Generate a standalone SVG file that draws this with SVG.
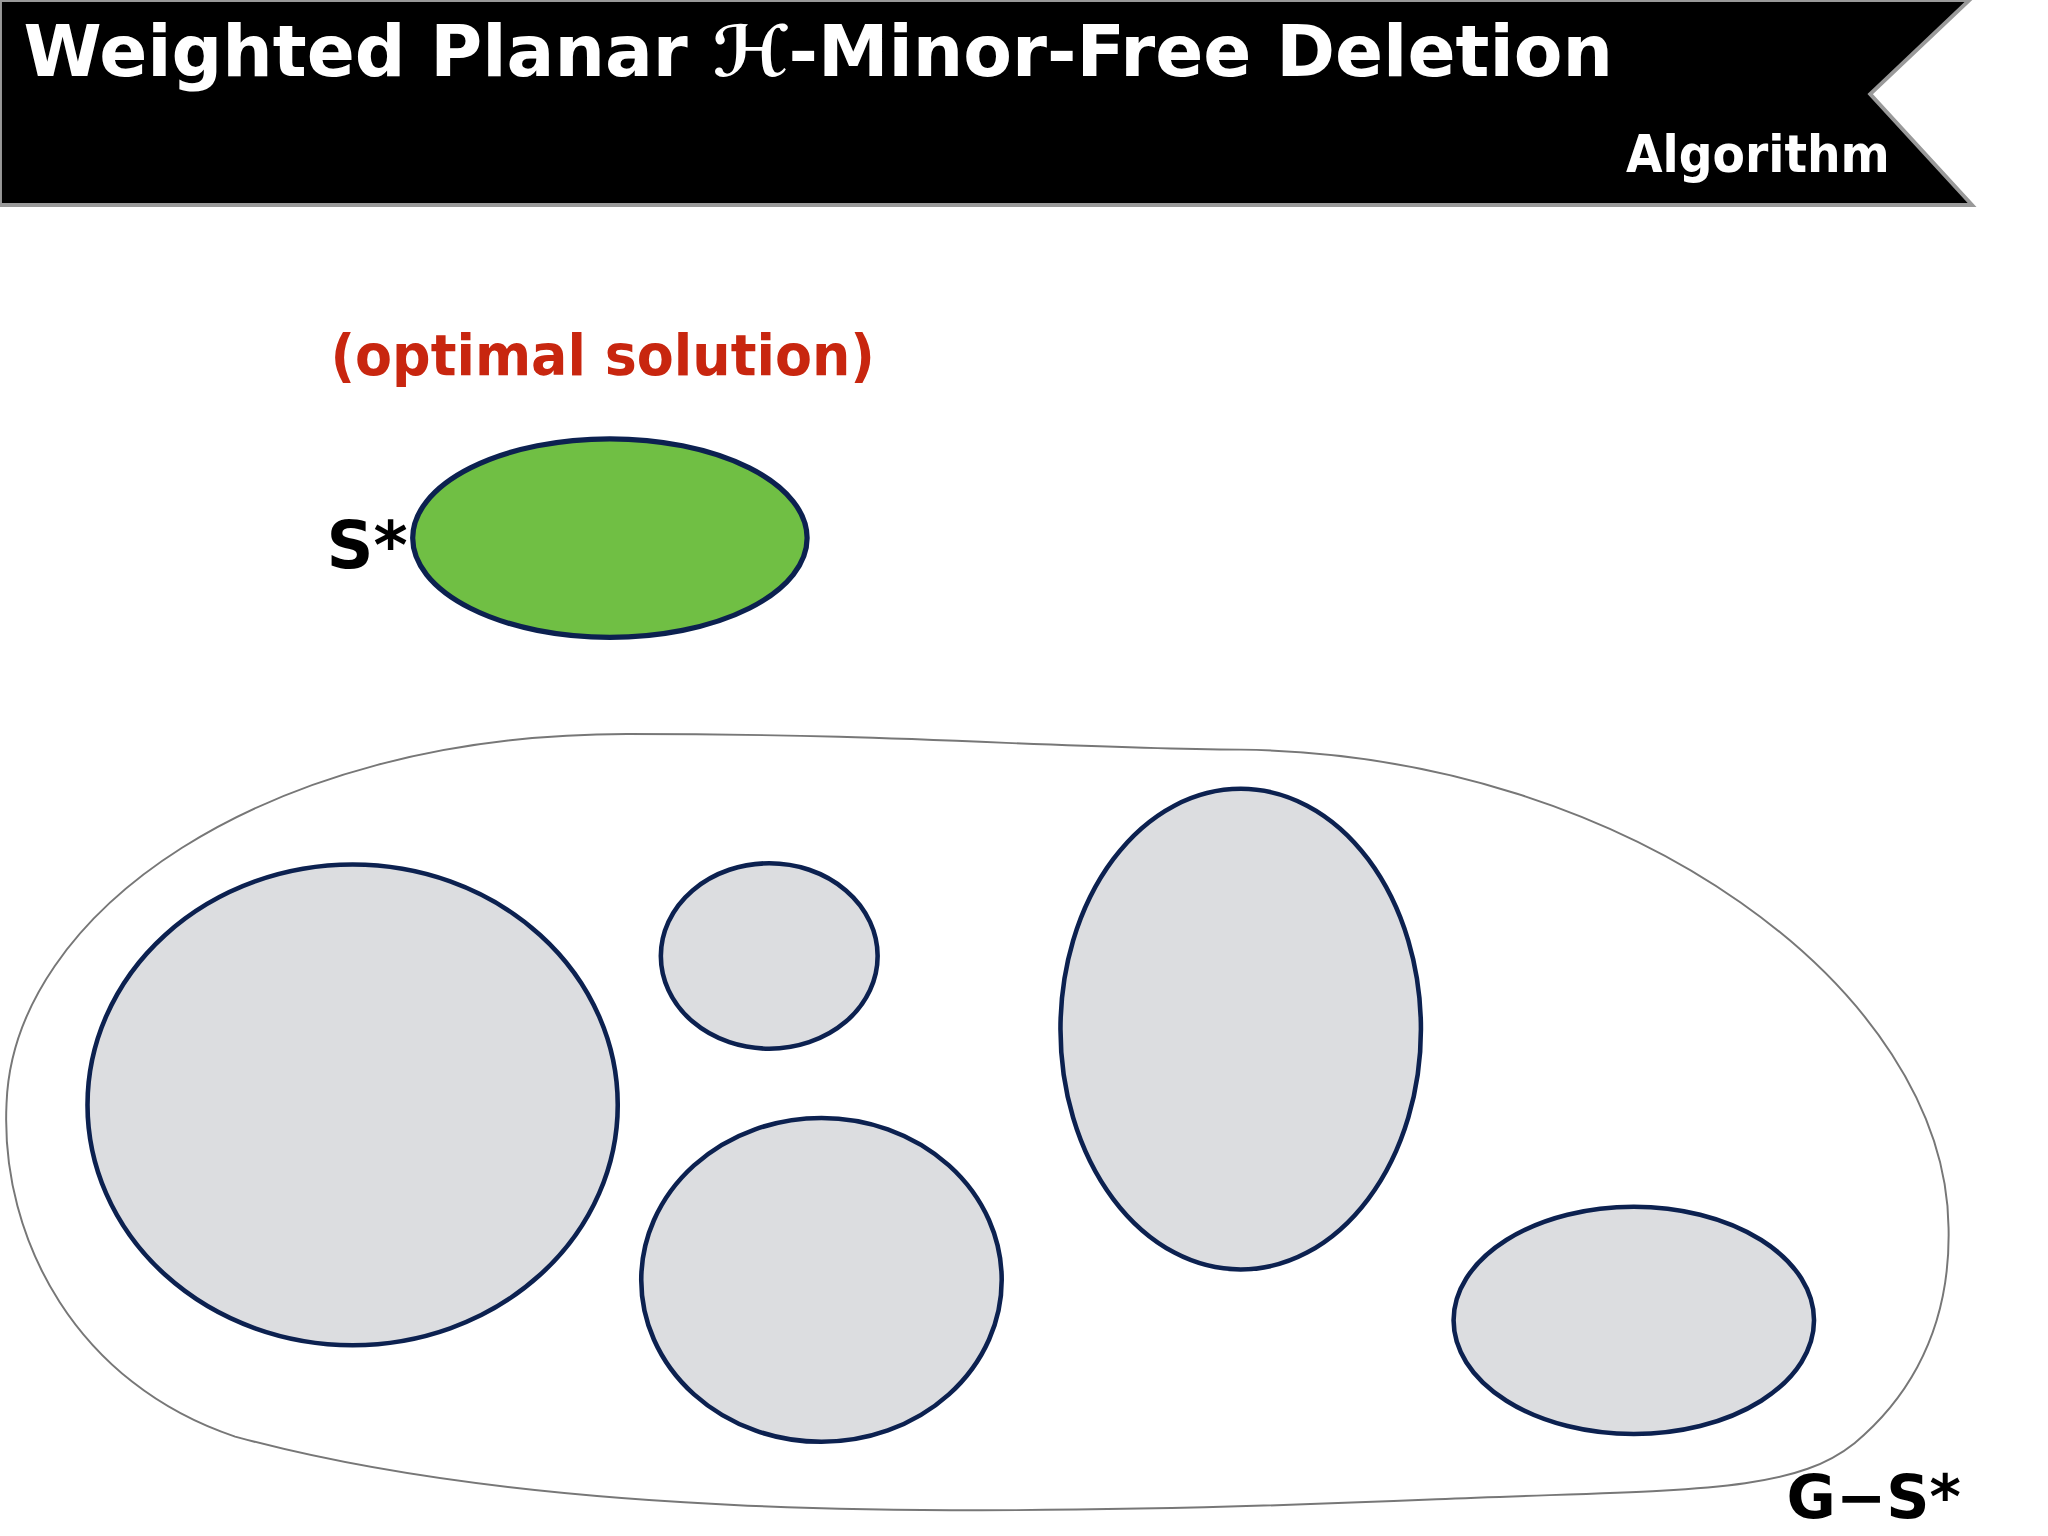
<svg xmlns="http://www.w3.org/2000/svg" width="2048" height="1536" viewBox="0 0 2048 1536">
<style>
.t{font-family:"DejaVu Sans","Noto Sans",sans-serif;font-weight:bold}
.part{fill:#dcdde0;stroke:#0c2150;stroke-width:3.5}
</style>
<rect width="2048" height="1536" fill="#fff"/>
<g transform="scale(1.306)">
<g id="header">
<polygon points="0,0 1508,0 1432,72 1510,157 0,157" fill="#000" stroke="#999" stroke-width="3"/>
<text class="t" x="18" y="58" font-size="54" fill="#fff" textLength="1217" lengthAdjust="spacingAndGlyphs">Weighted Planar ℋ-Minor-Free Deletion</text>
<text class="t" x="1245" y="132" font-size="40" fill="#fff" textLength="202" lengthAdjust="spacingAndGlyphs">Algorithm</text>
</g>
<g id="optimal">
<text class="t" x="253" y="287" font-size="44" fill="#c8260f" font-weight="normal" textLength="417" lengthAdjust="spacingAndGlyphs">(optimal solution)</text>
<ellipse cx="467" cy="412" rx="151" ry="76" fill="#70bf44" stroke="#0c2150" stroke-width="4"/>
<text class="t" x="250" y="435" font-size="50" fill="#000">S*</text>
</g>
<g id="graph">
<path d="M480 562 C700 562 800 573 950 574 C1250 578 1490 760 1492 940 C1494 1030 1450 1080 1420 1105 C1370 1145 1290 1140 1100 1148 C700 1165 400 1160 180 1100 C60 1060 0 950 5 845 C10 700 200 562 480 562 Z" fill="none" stroke="#777" stroke-width="1.5"/>
<text class="t" x="1368" y="1162" font-size="46" fill="#000">G−S*</text>
</g>
<g id="c1"><ellipse class="part" cx="270" cy="846" rx="203" ry="184"/></g>
<g id="c2"><ellipse class="part" cx="589" cy="732" rx="83" ry="71"/></g>
<g id="c3"><ellipse class="part" cx="629" cy="980" rx="138" ry="124"/></g>
<g id="c4"><ellipse class="part" cx="950" cy="788" rx="138" ry="184"/></g>
<g id="c5"><ellipse class="part" cx="1251" cy="1011" rx="138" ry="87"/></g>
<g id="connectors"></g>
</g>
</svg>
